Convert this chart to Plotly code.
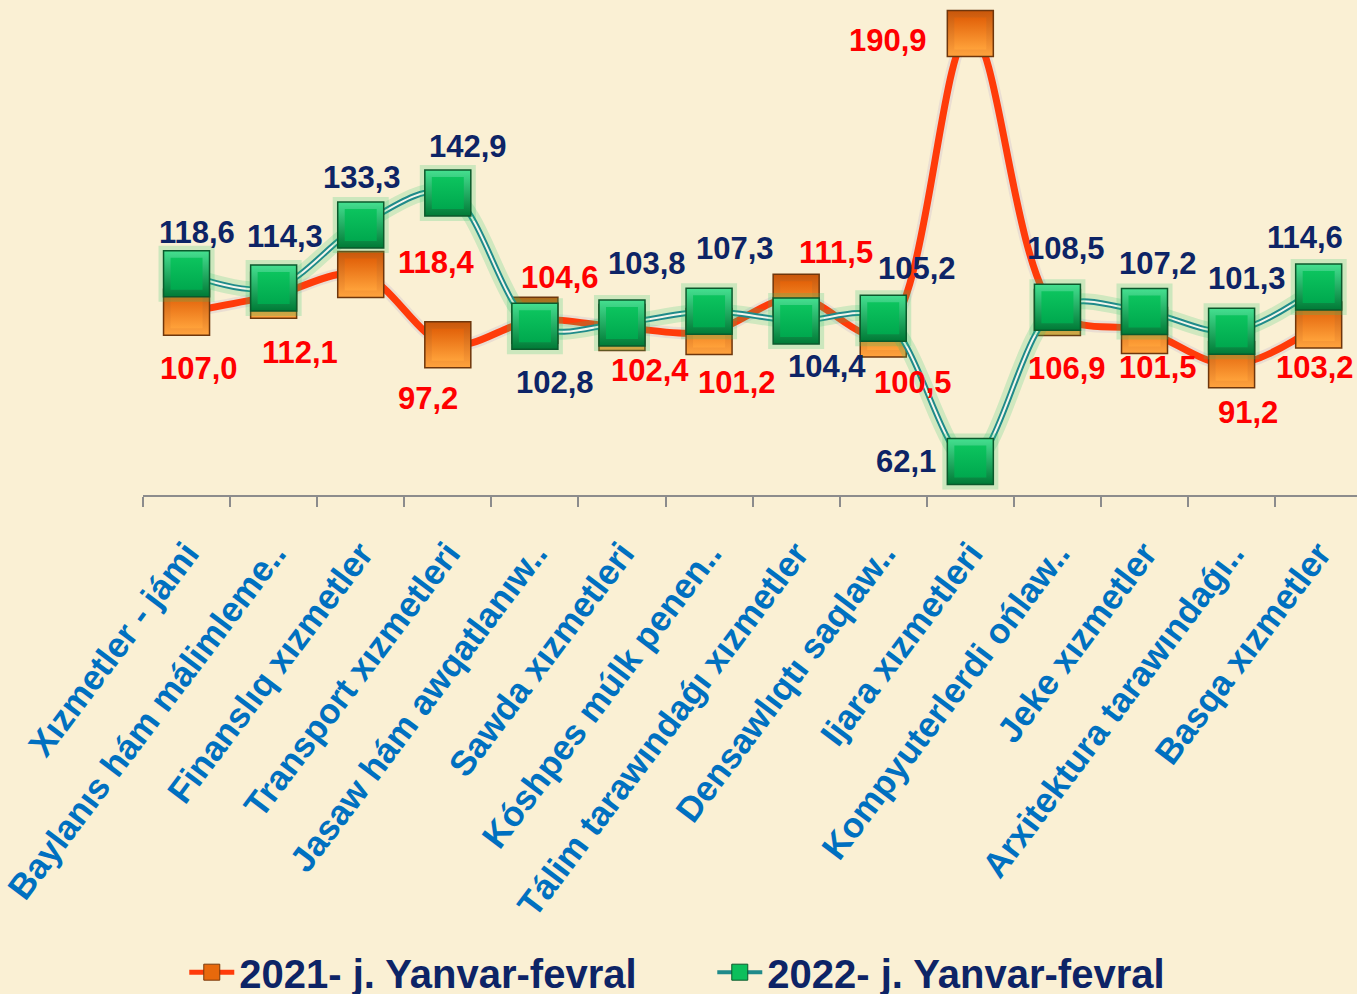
import plotly.graph_objects as go

categories = [
    "Xızmetler - jámi",
    "Baylanıs hám málimleme..",
    "Finanslıq xızmetler",
    "Transport xızmetleri",
    "Jasaw hám awqatlanıw..",
    "Sawda xızmetleri",
    "Kóshpes múlk penen..",
    "Tálim tarawındaǵı xızmetler",
    "Densawlıqtı saqlaw..",
    "Ijara xızmetleri",
    "Kompyuterlerdi ońlaw..",
    "Jeke xızmetler",
    "Arxitektura tarawındaǵı..",
    "Basqa xızmetler",
]
values_2021 = [107.0, 112.1, 118.4, 97.2, 104.6, 102.4, 101.2, 111.5, 100.5, 190.9, 106.9, 101.5, 91.2, 103.2]
values_2022 = [118.6, 114.3, 133.3, 142.9, 102.8, 103.8, 107.3, 104.4, 105.2, 62.1, 108.5, 107.2, 101.3, 114.6]
series_names = ["2021- j. Yanvar-fevral", "2022- j. Yanvar-fevral"]

# label offsets in pixels (dx right, dy down) relative to each point
offsets_2021 = [(12, 56), (26, 57), (76, -12), (-20, 54), (25, -43), (28, 43), (28, 51),
                (40, -45), (30, 49), (-82, 7), (10, 56), (13, 37), (16, 48), (-4, 43)]
offsets_2022 = [(10, -41), (11, -52), (1, -47), (20, -47), (20, 56), (25, -59), (26, -63),
                (31, 46), (34, -50), (-64, 0), (9, -59), (13, -48), (15, -53), (-14, -50)]

BG = "#FAF0D4"
FONT = "Liberation Sans"
MS = 46


def fmt(v):
    return f"{v:.1f}".replace(".", ",")


fig = go.Figure()

# ---- 2021 series (orange) ----
fig.add_trace(go.Scatter(
    x=categories, y=values_2021, mode="lines",
    line=dict(color="rgba(120,100,200,0.12)", width=12, shape="spline", smoothing=1.0),
    showlegend=False, hoverinfo="skip"))
fig.add_trace(go.Scatter(
    x=categories, y=values_2021, mode="lines",
    line=dict(color="#FF3B0A", width=7, shape="spline", smoothing=1.0),
    showlegend=False, hoverinfo="skip"))
fig.add_trace(go.Scatter(
    x=categories, y=values_2021, mode="markers",
    marker=dict(symbol="square", size=MS, color="#C9560A",
                gradient=dict(type="vertical", color="#FFA33E"),
                line=dict(color="#6E360C", width=1.5)),
    showlegend=False, hoverinfo="skip"))
fig.add_trace(go.Scatter(
    x=categories, y=values_2021, mode="markers",
    marker=dict(symbol="square", size=32, color="#E2620A",
                gradient=dict(type="vertical", color="#FFA23A"),
                line=dict(width=0)),
    showlegend=False, hoverinfo="skip"))

# ---- 2022 series (green) ----
fig.add_trace(go.Scatter(
    x=categories, y=values_2022, mode="lines",
    line=dict(color="rgba(40,200,110,0.20)", width=16, shape="spline", smoothing=1.0),
    showlegend=False, hoverinfo="skip"))
fig.add_trace(go.Scatter(
    x=categories, y=values_2022, mode="lines",
    line=dict(color="#1F8A8A", width=6, shape="spline", smoothing=1.0),
    showlegend=False, hoverinfo="skip"))
fig.add_trace(go.Scatter(
    x=categories, y=values_2022, mode="lines",
    line=dict(color="#F4F6EC", width=2, shape="spline", smoothing=1.0),
    showlegend=False, hoverinfo="skip"))
fig.add_trace(go.Scatter(
    x=categories, y=values_2022, mode="markers",
    marker=dict(symbol="square", size=MS + 10, color="rgba(40,200,110,0.22)", line=dict(width=0)),
    showlegend=False, hoverinfo="skip"))
fig.add_trace(go.Scatter(
    x=categories, y=values_2022, mode="markers",
    marker=dict(symbol="square", size=MS, color="#45E090",
                gradient=dict(type="vertical", color="#007A36"),
                line=dict(color="#0B5A2C", width=1.5)),
    showlegend=False, hoverinfo="skip"))
fig.add_trace(go.Scatter(
    x=categories, y=values_2022, mode="markers",
    marker=dict(symbol="square", size=32, color="#0CC45E",
                gradient=dict(type="vertical", color="#00A84E"),
                line=dict(width=0)),
    showlegend=False, hoverinfo="skip"))

# ---- legend-only entries ----
fig.add_trace(go.Scatter(
    x=[None], y=[None], mode="lines+markers", name=series_names[0],
    line=dict(color="#FF3B0A", width=5),
    marker=dict(symbol="square", size=16, color="#E8690C", line=dict(color="#7A3A0C", width=1))))
fig.add_trace(go.Scatter(
    x=[None], y=[None], mode="lines+markers", name=series_names[1],
    line=dict(color="#1F8A8A", width=4),
    marker=dict(symbol="square", size=16, color="#0CBF5C", line=dict(color="#0B5A2C", width=1))))

# ---- data labels ----
annotations = []
for cat, v, (dx, dy) in zip(categories, values_2021, offsets_2021):
    annotations.append(dict(x=cat, y=v, xref="x", yref="y", text=fmt(v), showarrow=False,
                            xshift=dx, yshift=-dy,
                            font=dict(family=FONT, size=31, color="#FF0000", weight="bold")))
for cat, v, (dx, dy) in zip(categories, values_2022, offsets_2022):
    annotations.append(dict(x=cat, y=v, xref="x", yref="y", text=fmt(v), showarrow=False,
                            xshift=dx, yshift=-dy,
                            font=dict(family=FONT, size=31, color="#0D2466", weight="bold")))

fig.update_layout(
    width=1357, height=994,
    margin=dict(l=143, r=0, t=0, b=499, autoexpand=False),
    paper_bgcolor=BG, plot_bgcolor=BG,
    annotations=annotations,
    showlegend=True,
    legend=dict(orientation="h", x=0.034, xanchor="left", y=-0.964, yanchor="middle",
                font=dict(family=FONT, size=40, color="#0D2466", weight="bold"),
                bgcolor="rgba(0,0,0,0)", itemwidth=45, itemsizing="trace",
                entrywidth=468, entrywidthmode="pixels"),
    xaxis=dict(
        type="category", range=[-0.5, 13.44], automargin=False,
        showline=True, linecolor="#8C8C8C", linewidth=2,
        ticks="outside", ticklen=10, tickwidth=2, tickcolor="#8C8C8C", tickson="boundaries",
        tickangle=-53, ticklabelstandoff=22,
        tickfont=dict(family=FONT, size=35, color="#0070C0", weight="bold"),
        showgrid=False, zeroline=False, fixedrange=True),
    yaxis=dict(range=[52, 201], visible=False, showgrid=False, zeroline=False, fixedrange=True),
)

fig.write_html("out.html")
